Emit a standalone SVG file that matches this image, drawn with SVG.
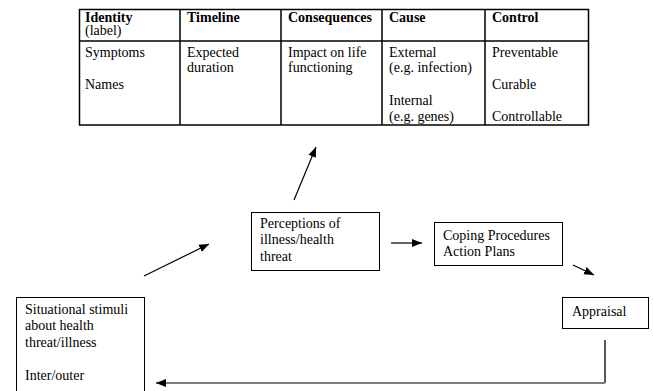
<svg xmlns="http://www.w3.org/2000/svg" width="653" height="391" viewBox="0 0 653 391" font-family="'Liberation Serif', 'Times New Roman', Times, serif" font-size="14">
<defs>
<style>
text{font-family:'Liberation Serif','Times New Roman',Times,serif;font-size:14px;fill:#000}
.b{font-weight:bold}
.box{fill:#fff;stroke:#000;stroke-width:1}
.tl{stroke:#000;stroke-width:1.5;fill:none}
.c{stroke:#000;stroke-width:1.2;fill:none}
</style>
<marker id="ah" viewBox="0 0 10 10" refX="10" refY="5" markerWidth="10" markerHeight="10" markerUnits="userSpaceOnUse" orient="auto">
<path d="M0,1 L10,5 L0,9 Z" fill="#000"/>
</marker>
</defs>
<rect width="653" height="391" fill="#fff"/>
<g id="table">
<rect x="79.5" y="9.5" width="509" height="115.5" class="tl"/>
<line x1="79.5" y1="41" x2="588.5" y2="41" class="tl"/>
<line x1="180" y1="9.5" x2="180" y2="125" class="tl"/>
<line x1="281" y1="9.5" x2="281" y2="125" class="tl"/>
<line x1="382" y1="9.5" x2="382" y2="125" class="tl"/>
<line x1="485" y1="9.5" x2="485" y2="125" class="tl"/>
<text x="85" y="22" class="b">Identity</text>
<text x="85" y="35">(label)</text>
<text x="85" y="57">Symptoms</text>
<text x="85" y="89">Names</text>
<text x="187" y="22" class="b">Timeline</text>
<text x="187" y="57">Expected</text>
<text x="187" y="72">duration</text>
<text x="288" y="22" class="b">Consequences</text>
<text x="288" y="57">Impact on life</text>
<text x="288" y="72">functioning</text>
<text x="389" y="22" class="b">Cause</text>
<text x="389" y="57">External</text>
<text x="389" y="72">(e.g. infection)</text>
<text x="389" y="105">Internal</text>
<text x="389" y="121">(e.g. genes)</text>
<text x="492" y="22" class="b">Control</text>
<text x="492" y="57">Preventable</text>
<text x="492" y="89">Curable</text>
<text x="492" y="121">Controllable</text>
</g>
<g id="perceptions">
<rect x="251.5" y="212.5" width="128" height="58" class="box"/>
<text x="260" y="228">Perceptions of</text>
<text x="260" y="244">illness/health</text>
<text x="260" y="261">threat</text>
</g>
<g id="coping">
<rect x="434.5" y="222.5" width="128" height="43" class="box"/>
<text x="443" y="240">Coping Procedures</text>
<text x="443" y="256">Action Plans</text>
</g>
<g id="appraisal">
<rect x="562.5" y="297.5" width="86" height="31" class="box"/>
<text x="572" y="316">Appraisal</text>
</g>
<g id="situational">
<rect x="16.5" y="297.5" width="128" height="100" class="box"/>
<text x="25" y="314">Situational stimuli</text>
<text x="25" y="330">about health</text>
<text x="25" y="347">threat/illness</text>
<text x="25" y="380">Inter/outer</text>
</g>
<g id="connectors">
<line x1="144" y1="276" x2="209" y2="244" class="c" marker-end="url(#ah)"/>
<line x1="294" y1="200" x2="316" y2="147" class="c" marker-end="url(#ah)"/>
<line x1="391" y1="243" x2="422" y2="243" class="c" marker-end="url(#ah)"/>
<line x1="573" y1="265" x2="594" y2="275" class="c" marker-end="url(#ah)"/>
<line x1="605" y1="340" x2="605" y2="383" stroke="#000" stroke-width="1.3"/>
<line x1="605" y1="383" x2="156" y2="383" stroke="#7a7a7a" stroke-width="1.8" marker-end="url(#ah)"/>
</g>
</svg>
